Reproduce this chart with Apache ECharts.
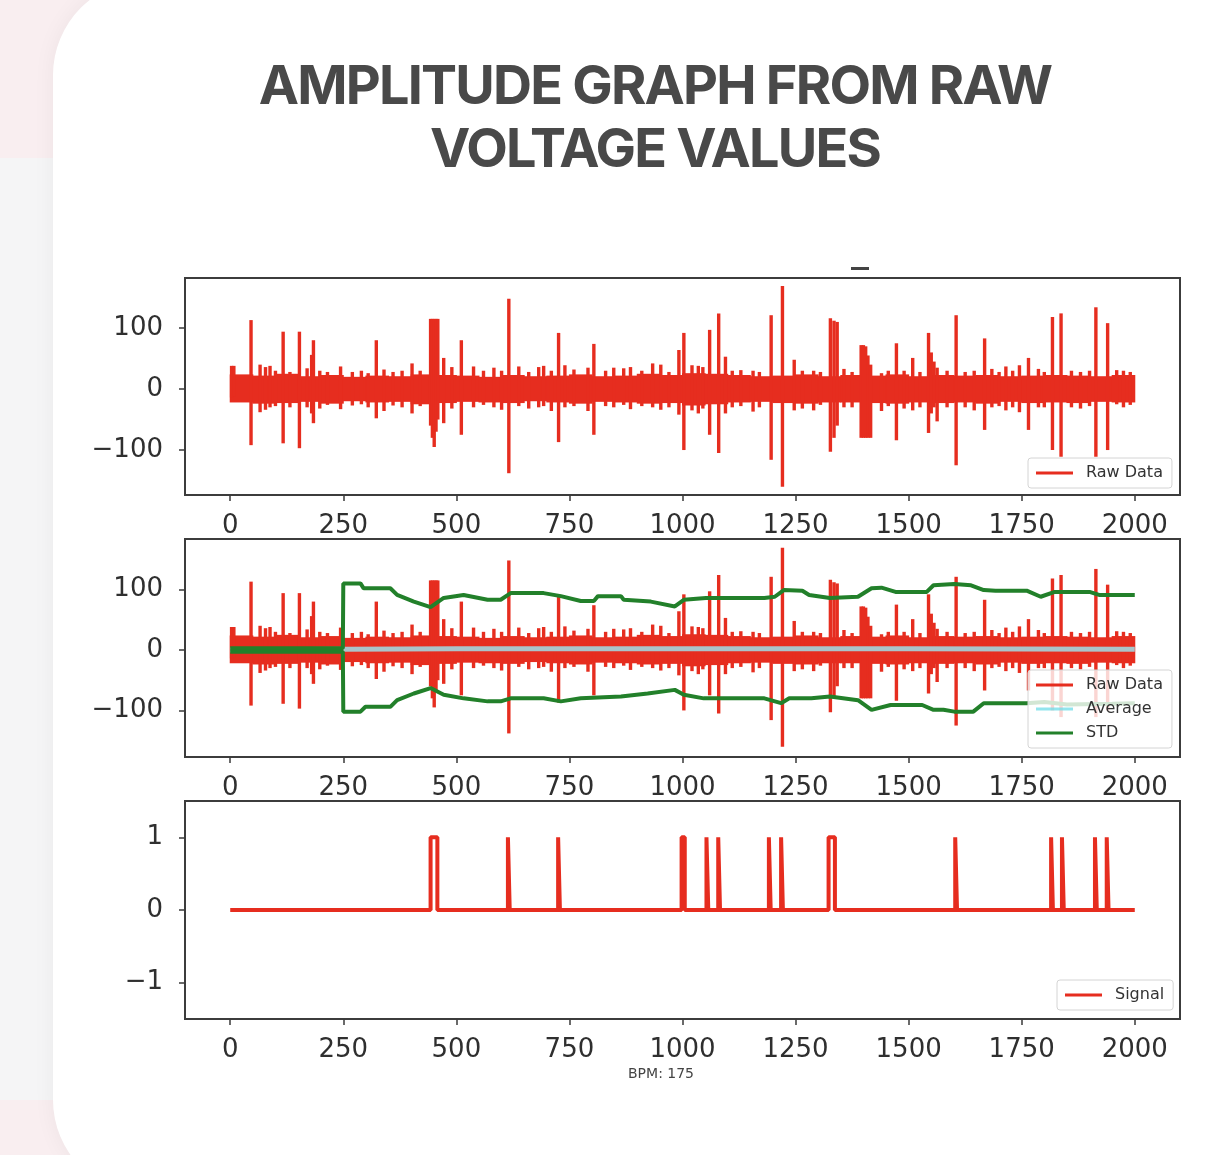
<!DOCTYPE html>
<html>
<head>
<meta charset="utf-8">
<title>Amplitude graph</title>
<script src="https://cdn.jsdelivr.net/npm/echarts@6/dist/echarts.min.js"></script>
<style>
html, body { margin: 0; padding: 0; width: 1232px; height: 1155px; overflow: hidden; }
body { position: relative; background: #f5f5f6; }
.bg-top { position: absolute; left: 0; top: 0; width: 100%; height: 158px; background: #f9eef0; }
.bg-bottom { position: absolute; left: 0; top: 1100px; width: 100%; height: 55px; background: #f9eef0; }
.card {
    position: absolute; left: 53px; top: -20px; width: 1320px; height: 1215px;
    background: #fff; border-radius: 95px;
    box-shadow: 0 0 22px rgba(0, 0, 0, 0.05);
}
.title {
    position: absolute; left: 155px; top: 53px; width: 1000px;
    text-align: center; margin: 0;
    font-family: Inter, "Noto Sans", sans-serif; font-weight: 700;
    font-size: 54px; line-height: 63px; letter-spacing: -1.8px;
    color: #494949;
}
#chart { position: absolute; left: 0; top: 0; width: 1232px; height: 1155px; }
</style>
</head>
<body>
<div class="bg-top"></div>
<div class="bg-bottom"></div>
<div class="card"></div>
<h1 class="title">AMPLITUDE GRAPH FROM RAW<br>VOLTAGE VALUES</h1>
<div id="chart"></div>

<script>
// x axis ticks (sample index), shared by the three panels
const xTicks = [0, 250, 500, 750, 1000, 1250, 1500, 1750, 2000];
const rawTicks = [-100, 0, 100];
const signalTicks = [-1, 0, 1];

// raw data noise band, one value per 50 samples (0-50, 50-100, ...)
const bandHi = [24, 22, 25, 21, 23, 20, 22, 21, 24, 23, 22, 20, 23, 21, 22, 24, 21, 22, 25, 23,
    26, 25, 23, 21, 22, 24, 21, 23, 22, 24, 21, 23, 22, 23, 21, 22, 23, 22, 21, 23];
const bandLo = [-22, -24, -23, -21, -24, -20, -22, -21, -25, -23, -21, -22, -23, -20, -22, -24, -21, -22, -24, -23,
    -27, -25, -22, -21, -23, -24, -22, -22, -23, -24, -22, -23, -22, -24, -21, -23, -22, -23, -21, -22];

// big spikes of the raw signal: [sample, max, min]
const bigSpikes = [
    [46, 113, -92], [117, 94, -89], [153, 94, -97], [180, 56, -40], [184, 80, -56],
    [323, 80, -48], [443, 115, -60], [447, 115, -80], [451, 115, -95], [455, 115, -70], [459, 115, -50],
    [511, 80, -75], [616, 148, -138], [726, 92, -87], [804, 74, -75],
    [1003, 92, -100], [1060, 97, -75], [1080, 124, -105], [1196, 121, -116], [1221, 169, -160],
    [1327, 116, -103], [1335, 112, -80], [1342, 110, -60],
    [1395, 72, -80], [1400, 72, -80], [1405, 70, -80], [1410, 55, -80], [1416, 40, -80],
    [1473, 75, -84], [1544, 92, -72], [1550, 60, -40], [1556, 45, -30], [1605, 121, -125],
    [1668, 83, -67], [1765, 51, -67], [1818, 118, -100], [1837, 124, -111],
    [1914, 134, -111], [1940, 108, -100]
];

// smaller bumps on the noise band: [sample, max, min]
const smallSpikes = [
    [3, 38, -14], [8, 38, -12], [66, 40, -38], [78, 36, -34], [88, 38, -30], [100, 30, -28], [132, 28, -30],
    [170, 34, -30], [198, 30, -32], [215, 28, -26], [244, 37, -33], [270, 28, -27], [290, 30, -25],
    [305, 26, -30], [340, 32, -36], [360, 28, -27], [380, 30, -30], [402, 42, -40], [420, 30, -28],
    [472, 51, -56], [490, 36, -32], [538, 37, -30], [560, 30, -26], [583, 35, -30], [600, 30, -34],
    [638, 37, -28], [660, 28, -32], [682, 36, -30], [693, 38, -28], [710, 30, -36], [740, 39, -30],
    [760, 32, -28], [791, 35, -36], [830, 30, -28], [848, 35, -30], [870, 34, -26], [885, 36, -33],
    [910, 30, -28], [934, 42, -30], [952, 40, -34], [970, 28, -30], [992, 64, -42], [1021, 39, -35],
    [1035, 38, -40], [1045, 36, -32], [1095, 53, -40], [1110, 30, -30], [1129, 31, -28], [1156, 30, -37],
    [1170, 28, -30], [1247, 48, -35], [1265, 30, -32], [1290, 30, -35], [1305, 28, -26], [1357, 33, -30],
    [1375, 28, -30], [1440, 26, -36], [1455, 30, -28], [1490, 30, -32], [1509, 51, -35], [1525, 28, -30],
    [1563, 35, -53], [1585, 30, -30], [1625, 28, -30], [1645, 30, -35], [1684, 33, -30], [1700, 28, -28],
    [1715, 37, -35], [1730, 30, -30], [1745, 39, -38], [1787, 33, -30], [1800, 28, -30], [1860, 30, -30],
    [1880, 28, -32], [1900, 30, -28], [1960, 31, -25], [1975, 30, -30], [1990, 28, -26]
];

// rolling average and average +/- std (middle panel)
const avgLine = [[0, 0], [250, 1], [500, 2], [1000, 2], [1500, 2], [2000, 1]];
const stdUpper = [
    [0, 3], [249, 3], [250, 110], [288, 110], [295, 102], [354, 102], [369, 91], [406, 80], [443, 71],
    [472, 86], [516, 91], [569, 83], [598, 83], [620, 94], [693, 94], [731, 89], [775, 81], [804, 81],
    [813, 89], [864, 89], [870, 83], [930, 80], [983, 72], [1003, 83], [1052, 86], [1181, 86], [1204, 88],
    [1224, 99], [1265, 98], [1280, 91], [1326, 86], [1388, 88], [1418, 102], [1440, 103], [1471, 96],
    [1540, 96], [1555, 107], [1601, 109], [1638, 107], [1666, 99], [1692, 98], [1761, 98], [1792, 88],
    [1823, 96], [1900, 96], [1921, 91], [2000, 91]
];
const stdLower = [
    [0, -3], [249, -3], [250, -102], [288, -102], [299, -94], [354, -94], [369, -83], [406, -72], [443, -63],
    [472, -74], [516, -80], [569, -85], [598, -85], [620, -80], [693, -80], [731, -85], [775, -80],
    [864, -77], [923, -72], [983, -66], [1003, -74], [1047, -80], [1181, -80], [1218, -88], [1236, -80],
    [1285, -80], [1326, -77], [1388, -83], [1418, -99], [1460, -91], [1530, -91], [1555, -99], [1577, -99],
    [1601, -102], [1643, -102], [1666, -88], [1761, -88], [1800, -86], [1850, -90], [1950, -89], [2000, -88]
];

// detected beats (signal = 1 between start and end sample)
const signalPulses = [
    [443, 458], [614, 618], [725, 729], [998, 1005], [1053, 1057], [1079, 1083], [1191, 1195],
    [1218, 1222], [1323, 1337], [1603, 1607], [1815, 1819], [1839, 1843], [1912, 1916], [1938, 1942]
];
const bpmText = 'BPM: 175';

const RED = '#e62d1f';
const GREEN = '#22802a';
const TEXT = '#2f2f2f';
const FONT = 'DejaVu Sans';

// build raw items: [x0, x1, min, max]
const rawItems = [];
bandHi.forEach((hi, i) => rawItems.push([i * 50, i * 50 + 50, bandLo[i], hi]));
smallSpikes.forEach(s => rawItems.push([s[0], s[0], s[2], s[1]]));
bigSpikes.forEach(s => rawItems.push([s[0], s[0], s[2], s[1]]));

const signalPoints = [[0, 0]];
signalPulses.forEach(([s, e]) => {
    signalPoints.push([s, 0], [s, 1], [e, 1], [e, 0]);
});
signalPoints.push([2000, 0]);

function renderRaw(params, api) {
    const top = api.coord([api.value(0), api.value(3)]);
    const bottom = api.coord([api.value(1), api.value(2)]);
    let x = top[0];
    let w = bottom[0] - top[0];
    if (w < 3.4) {
        // single sample spike
        x = top[0] - 1.7;
        w = 3.4;
    } else {
        // overlap neighbouring band blocks so no seam shows
        x -= 0.5;
        w += 1;
    }
    return {
        type: 'rect',
        shape: { x: x, y: top[1], width: w, height: bottom[1] - top[1] },
        style: { fill: RED }
    };
}

const minus = v => String(v).replace('-', '\u2212');

function xAxisFor(i) {
    return {
        type: 'value', gridIndex: i, min: -100, max: 2100,
        splitLine: { show: false },
        axisLine: { show: false, onZero: false },
        axisTick: { show: true, length: 6, customValues: xTicks, lineStyle: { color: '#3a3a3a', width: 1.5 } },
        axisLabel: {
            customValues: xTicks, margin: 18, fontFamily: FONT, fontSize: 26, color: TEXT,
            formatter: v => String(v)
        }
    };
}

function yAxisFor(i, min, max, ticks) {
    return {
        type: 'value', gridIndex: i, min: min, max: max,
        splitLine: { show: false },
        axisLine: { show: false, onZero: false },
        axisTick: { show: true, length: 6, customValues: ticks, lineStyle: { color: '#3a3a3a', width: 1.5 } },
        axisLabel: { customValues: ticks, margin: 22, fontFamily: FONT, fontSize: 26, color: TEXT, formatter: minus }
    };
}

const legendBase = {
    orient: 'vertical',
    selectedMode: false,
    itemWidth: 37,
    itemHeight: 3,
    itemGap: 8,
    padding: [7, 9, 7, 8],
    backgroundColor: 'rgba(255,255,255,0.8)',
    borderColor: '#d4d4d4',
    borderWidth: 1,
    borderRadius: 3,
    textStyle: { fontFamily: FONT, fontSize: 16, color: '#333', padding: [0, 0, 0, 8] }
};

const chart = echarts.init(document.getElementById('chart'), null, { renderer: 'canvas' });

const option = {
    animation: false,
    grid: [
        { left: 185, top: 278, width: 995, height: 217 },
        { left: 185, top: 539, width: 995, height: 218 },
        { left: 185, top: 801, width: 995, height: 218 }
    ].map(g => Object.assign(g, { show: true, borderColor: '#3c3c3c', borderWidth: 2, backgroundColor: 'transparent' })),
    xAxis: [xAxisFor(0), xAxisFor(1), xAxisFor(2)],
    yAxis: [
        yAxisFor(0, -173.7, 182, rawTicks),
        yAxisFor(1, -177, 183.5, rawTicks),
        yAxisFor(2, -1.5, 1.5, signalTicks)
    ],
    legend: [
        Object.assign({}, legendBase, {
            left: 1028, top: 458,
            data: [{ name: 'Raw Data', icon: 'rect' }]
        }),
        Object.assign({}, legendBase, {
            left: 1028, top: 670,
            data: [
                { name: 'Raw Data', icon: 'rect' },
                { name: 'Average', icon: 'rect', itemStyle: { color: 'rgba(110,220,232,0.75)' } },
                { name: 'STD', icon: 'rect' }
            ]
        }),
        Object.assign({}, legendBase, {
            left: 1057, top: 980,
            data: [{ name: 'Signal', icon: 'rect' }]
        })
    ],
    graphic: [
        {
            type: 'text', left: 628, top: 1067,
            style: { text: bpmText, fontFamily: FONT, fontSize: 14, fill: '#444' }
        },
        { type: 'rect', left: 851, top: 267, shape: { width: 18, height: 3 }, style: { fill: '#444' } }
    ],
    series: [
        {
            name: 'Raw Data', type: 'custom', xAxisIndex: 0, yAxisIndex: 0,
            itemStyle: { color: RED }, encode: { x: [0, 1], y: [2, 3] },
            renderItem: renderRaw, data: rawItems
        },
        {
            name: 'Raw Data', type: 'custom', xAxisIndex: 1, yAxisIndex: 1,
            itemStyle: { color: RED }, encode: { x: [0, 1], y: [2, 3] },
            renderItem: renderRaw, data: rawItems
        },
        {
            name: 'Average', type: 'line', xAxisIndex: 1, yAxisIndex: 1,
            showSymbol: false, data: avgLine,
            itemStyle: { color: '#aac4ca' },
            lineStyle: { color: '#aac4ca', width: 5 }
        },
        {
            name: 'STD', type: 'line', xAxisIndex: 1, yAxisIndex: 1,
            showSymbol: false, data: stdUpper,
            itemStyle: { color: GREEN }, lineStyle: { color: GREEN, width: 4 }
        },
        {
            name: 'STD', type: 'line', xAxisIndex: 1, yAxisIndex: 1,
            showSymbol: false, data: stdLower,
            itemStyle: { color: GREEN }, lineStyle: { color: GREEN, width: 4 }
        },
        {
            name: 'Signal', type: 'line', xAxisIndex: 2, yAxisIndex: 2,
            showSymbol: false, data: signalPoints,
            itemStyle: { color: RED }, lineStyle: { color: RED, width: 4 }
        }
    ]
};

chart.setOption(option);
</script>
</body>
</html>
